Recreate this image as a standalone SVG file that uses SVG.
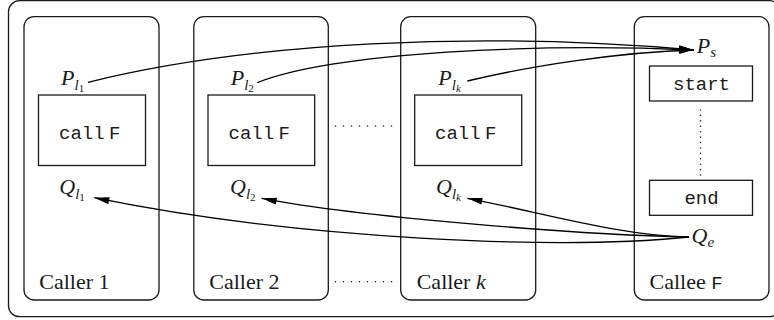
<svg xmlns="http://www.w3.org/2000/svg" width="774" height="320" viewBox="0 0 774 320">
  <style>
    .frame { fill: #ffffff; stroke: #1a1a1a; stroke-width: 1.3; }
    .box { fill: #ffffff; stroke: #1a1a1a; stroke-width: 1.3; }
    .edge { fill: none; stroke: #000000; stroke-width: 1.3; }
    .dots { fill: none; stroke: #222222; stroke-width: 1.6; stroke-linecap: round; }
    .rm { font-family: "Liberation Serif", "Times New Roman", "DejaVu Serif", serif; font-size: 22px; fill: #1a1a1a; }
    .mi { font-family: "Liberation Serif", "Times New Roman", "DejaVu Serif", serif; font-size: 22px; font-style: italic; fill: #1a1a1a; }
    .tt { font-family: "Liberation Mono", "Courier New", "DejaVu Sans Mono", monospace; font-size: 19px; fill: #1a1a1a; }
    .call { word-spacing: -7px; }
    .sub { font-size: 15px; }
    .subsub { font-size: 11px; font-style: normal; }
    .subk { font-size: 11px; font-style: italic; }
  </style>
  <defs>
    <marker id="tip" viewBox="-16 -4 17 8" markerWidth="17" markerHeight="8" refX="0" refY="0" orient="auto" markerUnits="userSpaceOnUse">
      <path d="M0,0 C-4,-0.8 -10,-2.4 -15,-3.5 L-15,3.5 C-10,2.4 -4,0.8 0,0 Z" fill="#000000"/>
    </marker>
  </defs>

  <!-- surrounding program frame -->
  <rect class="frame" x="8.5" y="0.7" width="772" height="316" rx="11"/>

  <!-- caller 1 -->
  <g id="caller1">
    <rect class="box" x="24" y="16.7" width="135" height="283.3" rx="10"/>
    <rect class="box" x="38.5" y="95" width="107" height="70.5"/>
    <text class="tt call" x="59" y="139">call F</text>
    <text class="mi" x="61" y="85">P<tspan class="sub" dy="5">l</tspan><tspan class="subsub" dy="1.5">1</tspan></text>
    <text class="mi" x="59.3" y="194">Q<tspan class="sub" dy="5">l</tspan><tspan class="subsub" dy="1.5">1</tspan></text>
    <text class="rm" x="39.3" y="288.5">Caller 1</text>
  </g>

  <!-- caller 2 -->
  <g id="caller2">
    <rect class="box" x="193.8" y="16.7" width="134.5" height="283.3" rx="10"/>
    <rect class="box" x="208" y="95" width="106.7" height="70.5"/>
    <text class="tt call" x="228.5" y="139">call F</text>
    <text class="mi" x="230.7" y="85">P<tspan class="sub" dy="5">l</tspan><tspan class="subsub" dy="1.5">2</tspan></text>
    <text class="mi" x="230" y="194">Q<tspan class="sub" dy="5">l</tspan><tspan class="subsub" dy="1.5">2</tspan></text>
    <text class="rm" x="209.3" y="288.5">Caller 2</text>
  </g>

  <!-- elided callers -->
  <g id="ellipsis">
    <path class="dots" d="M335.5,126 H392" stroke-dasharray="0 8"/>
    <path class="dots" d="M335.5,281.7 H392" stroke-dasharray="0 8"/>
  </g>

  <!-- caller k -->
  <g id="callerk">
    <rect class="box" x="400.7" y="16.7" width="135" height="283.3" rx="10"/>
    <rect class="box" x="414.7" y="95" width="107" height="70.5"/>
    <text class="tt call" x="435" y="139">call F</text>
    <text class="mi" x="438.3" y="85">P<tspan class="sub" dy="5">l</tspan><tspan class="subk" dy="1.5">k</tspan></text>
    <text class="mi" x="436" y="194">Q<tspan class="sub" dy="5">l</tspan><tspan class="subk" dy="1.5">k</tspan></text>
    <text class="rm" x="416.7" y="288.5">Caller <tspan font-style="italic">k</tspan></text>
  </g>

  <!-- callee F -->
  <g id="callee">
    <rect class="box" x="634.3" y="16.7" width="134.7" height="283.3" rx="10"/>
    <rect class="box" x="649.5" y="66" width="103" height="35"/>
    <text class="tt" x="701.5" y="90" text-anchor="middle">start</text>
    <path class="dots" d="M700.5,110 V175.5" stroke-dasharray="0 5.42"/>
    <rect class="box" x="649.5" y="180.3" width="103" height="35"/>
    <text class="tt" x="701.5" y="204.3" text-anchor="middle">end</text>
    <text class="mi" x="696.7" y="53.3">P<tspan class="sub" dy="4">s</tspan></text>
    <text class="mi" x="691.5" y="243">Q<tspan class="sub" dy="4">e</tspan></text>
    <text class="rm" x="649.5" y="288.5">Callee <tspan class="tt" font-size="20px">F</tspan></text>
  </g>

  <!-- call and return edges -->
  <g id="edges">
    <path class="edge" d="M88,82.3 C250,42 480,31 694,50" marker-end="url(#tip)"/>
    <path class="edge" d="M257.3,82.7 C335,52 540,43 694,50" marker-end="url(#tip)"/>
    <path class="edge" d="M467.3,81 C530,66 620,52 694,50" marker-end="url(#tip)"/>
    <path class="edge" d="M689,237 C560,250 300,240 94.3,197.7" marker-end="url(#tip)"/>
    <path class="edge" d="M689,237 C580,235 360,217 261.7,198.3" marker-end="url(#tip)"/>
    <path class="edge" d="M689,237 C620,236 540,212 467.3,198.3" marker-end="url(#tip)"/>
  </g>
</svg>
